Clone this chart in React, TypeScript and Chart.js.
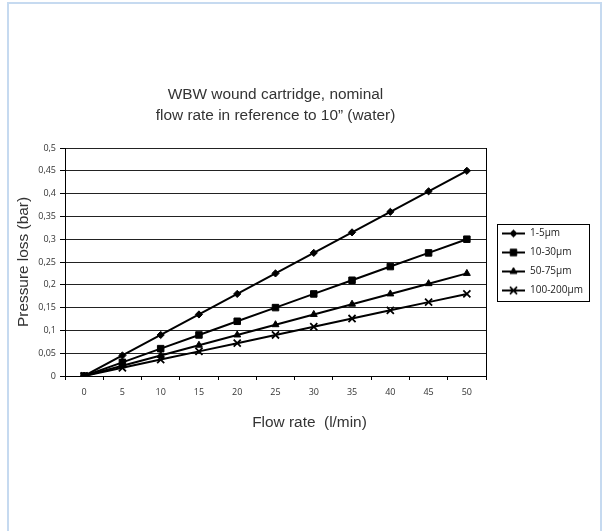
import React, { useEffect, useRef } from "react";
import { Chart, registerables } from "chart.js";
import { drawPoint } from "chart.js/helpers";

Chart.register(...registerables);

// ---- data ----
const categories = ["0", "5", "10", "15", "20", "25", "30", "35", "40", "45", "50"];
const series1to5 = [0, 0.045, 0.09, 0.135, 0.18, 0.225, 0.27, 0.315, 0.36, 0.405, 0.45];
const series10to30 = [0, 0.03, 0.06, 0.09, 0.12, 0.15, 0.18, 0.21, 0.24, 0.27, 0.3];
const series50to75 = [0, 0.0225, 0.045, 0.0675, 0.09, 0.1125, 0.135, 0.1575, 0.18, 0.2025, 0.225];
const series100to200 = [0, 0.018, 0.036, 0.054, 0.072, 0.09, 0.108, 0.126, 0.144, 0.162, 0.18];
const seriesNames = ["1-5µm", "10-30µm", "50-75µm", "100-200µm"];
const yTickLabels = ["0", "0,05", "0,1", "0,15", "0,2", "0,25", "0,3", "0,35", "0,4", "0,45", "0,5"];
const titleLines = ["WBW wound cartridge, nominal", "flow rate in reference to 10” (water)"];
const xTitle = "Flow rate  (l/min)";
const yTitle = "Pressure loss (bar)";

// ---- styles ----
const TITLEFONT = '"Liberation Sans", Arial, sans-serif';
const SMALL = '"Open Sans", sans-serif';
const markerStyles = ["rectRot", "rect", "triangle", "crossRot"];
const markerRadii = [3.6, 4.6, 4, 5];
const markerBorder = [1, 1, 1, 1.8];

function makeSymbol(style: string, radius: number, bw: number) {
  const c = document.createElement("canvas");
  c.width = 30;
  c.height = 12;
  const ctx = c.getContext("2d") as CanvasRenderingContext2D;
  ctx.strokeStyle = "#000";
  ctx.fillStyle = "#000";
  ctx.lineWidth = 2;
  ctx.beginPath();
  ctx.moveTo(7, 6);
  ctx.lineTo(30, 6);
  ctx.stroke();
  ctx.lineWidth = bw;
  drawPoint(ctx, { pointStyle: style, radius, rotation: 0, borderWidth: bw } as any, 18.5, 6);
  return c;
}

const decorPlugin = {
  id: "decor",
  beforeLayout(chart: any) {
    const lg = chart.legend;
    if (lg && !lg._fixedW) {
      const orig = lg.fit.bind(lg);
      lg.fit = function () {
        orig();
        this.width = 122;
      };
      lg._fixedW = true;
    }
  },
  afterDraw(chart: any) {
    const { ctx, chartArea } = chart;
    ctx.save();
    // plot area right border
    ctx.strokeStyle = "#000";
    ctx.lineWidth = 1;
    ctx.beginPath();
    const xr = Math.round(chartArea.right) + 0.5;
    ctx.moveTo(xr, Math.round(chartArea.top));
    ctx.lineTo(xr, Math.round(chartArea.bottom) + 1);
    ctx.stroke();
    // legend frame
    const boxes = chart.legend && chart.legend.legendHitBoxes;
    if (boxes && boxes.length) {
      const l = Math.min(...boxes.map((b: any) => b.left)) + 2;
      const t = boxes[0].top - 4.5;
      const r = Math.max(...boxes.map((b: any) => b.left + b.width)) + 6;
      const last = boxes[boxes.length - 1];
      const bt = last.top + last.height + 5.5;
      ctx.strokeRect(Math.round(l) + 0.5, Math.round(t) + 0.5, Math.round(r - l), Math.round(bt - t));
    }
    // x axis title
    ctx.fillStyle = "#333";
    ctx.font = `15.4px ${TITLEFONT}`;
    ctx.textAlign = "center";
    ctx.textBaseline = "middle";
    ctx.fillText(xTitle, (chartArea.left + chartArea.right) / 2 + 34, chartArea.bottom + 47);
    ctx.restore();
  },
};

export default function App() {
  const ref = useRef<HTMLCanvasElement>(null);

  useEffect(() => {
    const canvas = ref.current;
    if (!canvas) return;
    const symbols = markerStyles.map((s, i) => makeSymbol(s, markerRadii[i], markerBorder[i]));
    const allSeries = [series1to5, series10to30, series50to75, series100to200];

    const chart = new Chart(canvas, {
      type: "line",
      data: {
        labels: categories,
        datasets: allSeries.map((d, i) => ({
          label: seriesNames[i],
          data: d,
          borderColor: "#000",
          backgroundColor: "#000",
          borderWidth: 2,
          pointStyle: markerStyles[i] as any,
          pointRadius: markerRadii[i],
          pointBorderWidth: markerBorder[i],
          pointBackgroundColor: "#000",
          pointBorderColor: "#000",
          tension: 0,
          fill: false,
        })),
      },
      options: {
        responsive: true,
        maintainAspectRatio: false,
        animation: false,
        layout: { padding: 0 },
        plugins: {
          title: {
            display: true,
            text: titleLines,
            fullSize: false,
            color: "#333",
            font: { family: TITLEFONT, size: 15.4, weight: "normal", lineHeight: "21px" } as any,
            padding: { top: 84.5, bottom: 21.5 },
          },
          legend: {
            display: true,
            position: "right",
            align: "center",
            fullSize: false,
            labels: {
              usePointStyle: true,
              pointStyleWidth: 30,
              padding: 9,
              color: "#222",
              font: { family: SMALL, size: 10 },
              generateLabels: (ch: any) =>
                ch.data.datasets.map((ds: any, i: number) => ({
                  text: ds.label,
                  fillStyle: "#000",
                  strokeStyle: "#000",
                  lineWidth: 0,
                  pointStyle: symbols[i],
                  hidden: false,
                  datasetIndex: i,
                  fontColor: "#222",
                })),
            },
          },
          tooltip: { enabled: false },
        },
        scales: {
          x: {
            type: "category",
            offset: true,
            grid: {
              offset: true,
              drawOnChartArea: false,
              drawTicks: true,
              tickLength: 4,
              color: "#000",
              lineWidth: 1,
            },
            border: { display: true, color: "#000", width: 1 },
            ticks: {
              font: { family: SMALL, size: 9 },
              color: "#333",
              padding: 7,
              maxRotation: 0,
              autoSkip: false,
            },
            afterFit: (s: any) => {
              s.height = 155;
            },
          },
          y: {
            min: 0,
            max: 0.5,
            ticks: {
              stepSize: 0.05,
              callback: (_v: any, i: number) => yTickLabels[i],
              font: { family: SMALL, size: 9 },
              color: "#333",
              padding: 4,
            },
            grid: {
              color: "#222",
              lineWidth: 1,
              drawTicks: true,
              tickLength: 5,
              tickColor: "#000",
            },
            border: { display: true, color: "#000", width: 1 },
            title: {
              display: true,
              text: yTitle,
              color: "#333",
              font: { family: TITLEFONT, size: 15.4, weight: "normal" } as any,
              padding: { top: 15, bottom: 0 },
            },
            afterFit: (s: any) => {
              s.width = 65;
            },
          },
        },
      } as any,
      plugins: [decorPlugin as any],
    });

    return () => chart.destroy();
  }, []);

  return (
    <div
      style={{
        position: "fixed",
        left: 0,
        top: 0,
        width: 608,
        height: 531,
        overflow: "hidden",
        background: "#fff",
      }}
    >
      <div
        style={{
          position: "absolute",
          left: 7,
          top: 2,
          width: 591,
          height: 600,
          borderLeft: "2px solid #c6daf0",
          borderTop: "2px solid #c6daf0",
          borderRight: "2px solid #c6daf0",
        }}
      />
      <div style={{ position: "absolute", left: 0, top: 0, width: 608, height: 531 }}>
        <canvas ref={ref} />
      </div>
    </div>
  );
}
